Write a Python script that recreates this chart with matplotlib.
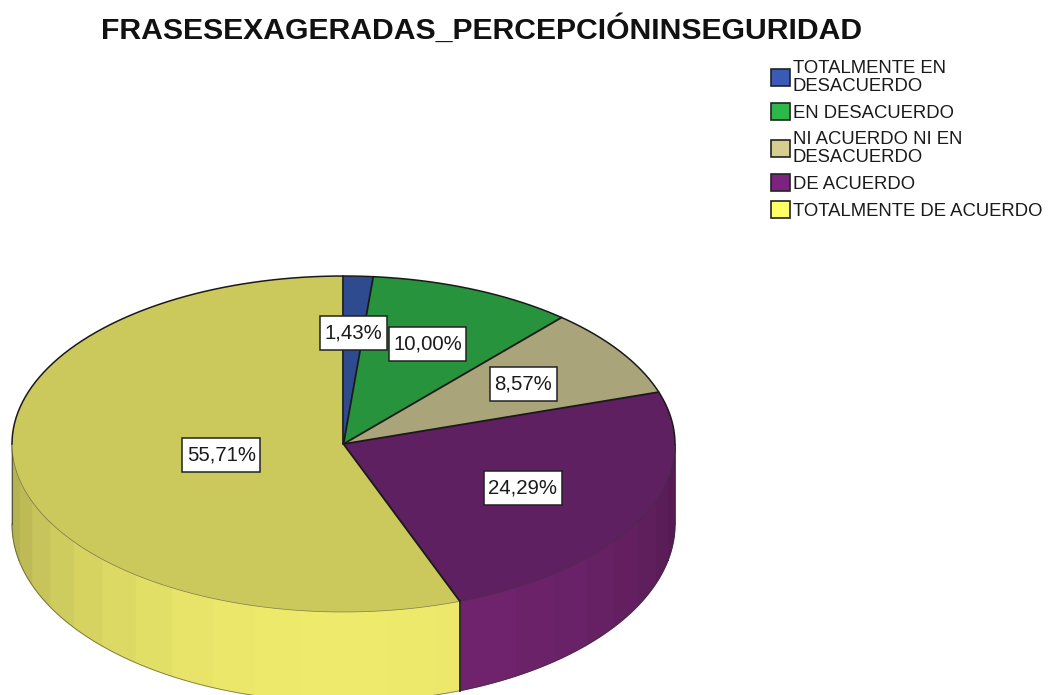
import numpy as np
import matplotlib
matplotlib.use("Agg")
import matplotlib.pyplot as plt
from matplotlib.patches import Patch
from matplotlib.path import Path

title = "FRASESEXAGERADAS_PERCEPCIÓNINSEGURIDAD"
categories = ["TOTALMENTE EN\nDESACUERDO", "EN DESACUERDO",
              "NI ACUERDO NI EN\nDESACUERDO", "DE ACUERDO", "TOTALMENTE DE ACUERDO"]
values = [1.43, 10.00, 8.57, 24.29, 55.71]
value_labels = ["1,43%", "10,00%", "8,57%", "24,29%", "55,71%"]
top_colors = ["#2F4B8F", "#27933D", "#A9A47A", "#5E2060", "#CBC95C"]
side_colors = ["#35549F", "#2CA545", "#BDB88A", "#72246F", "#EEEB6C"]
legend_colors = ["#3A5BB5", "#2DB84A", "#D5CE8F", "#7C2380", "#FFFF66"]
label_radii = [0.66, 0.645, 0.65, 0.60, 0.375]

W, H = 1048, 695
cx, cy, rx, ry = 343.5, 444, 331.5, 168
wall_side, wall_extra = 80 / ry, 10 / ry

plt.rcParams["font.family"] = ["Liberation Sans", "DejaVu Sans"]
fig = plt.figure(figsize=(W / 100, H / 100), dpi=100, facecolor="white")
ax = fig.add_axes([0, 0, 1, 1])

vals = np.array(values)
edges = np.concatenate([[0], np.cumsum(vals) / vals.sum() * 360])  # clockwise from the top


def pos(deg):
    r = np.radians(deg)
    return np.sin(r), np.cos(r)


def wall_depth(y):
    return wall_side + wall_extra * np.abs(y)


def label_box(x0, y0, width, height, mutation_size):
    """White label box with its own horizontal and vertical padding, in pixels."""
    px, tall = 4.5, 34.0
    yc = y0 + height / 2
    l, r, b, t = x0 - px, x0 + width + px, yc - tall / 2, yc + tall / 2
    return Path([(l, b), (r, b), (r, t), (l, t), (l, b)],
                [Path.MOVETO, Path.LINETO, Path.LINETO, Path.LINETO, Path.CLOSEPOLY])


# Side wall, drawn as shaded strips over the front half of the ellipse
STEP = 7.8
for i, col in enumerate(side_colors):
    a0, a1 = max(edges[i], 90), min(edges[i + 1], 270)
    if a1 <= a0:
        continue
    k0 = np.floor((a0 - 180) / STEP)
    k1 = np.ceil((a1 - 180) / STEP)
    marks = np.clip(np.arange(k0, k1 + 1) * STEP + 180, a0, a1)
    base = np.array(matplotlib.colors.to_rgb(col))
    for s0, s1 in zip(marks[:-1], marks[1:]):
        if s1 <= s0:
            continue
        t = np.linspace(s0, s1, 12)
        x, y = pos(t)
        off = np.radians((s0 + s1) / 2 - 180)
        c = base * (0.72 + 0.28 * np.cos(off))
        lower = y - wall_depth(y)
        ax.fill(np.r_[x, x[::-1]], np.r_[y, lower[::-1]],
                facecolor=c, edgecolor=c, linewidth=0.9, zorder=1)

# Silhouette of the wall
t = np.linspace(90, 270, 300)
x, y = pos(t)
ax.plot(x, y - wall_depth(y), color="#333333", lw=0.6, alpha=0.6, zorder=2)
for ang in (90, 270):
    xe, ye = pos(ang)
    ax.plot([xe, xe], [ye, ye - wall_depth(ye)], color="#333333", lw=0.7, alpha=0.7, zorder=2)

# Top face
ax.pie(vals, colors=top_colors, startangle=90, counterclock=False, radius=1,
       wedgeprops={"linewidth": 0, "zorder": 3})
ax.set_aspect("auto")
ax.set_xlim((0 - cx) / rx, (W - cx) / rx)
ax.set_ylim((cy - H) / ry, cy / ry)
ax.axis("off")

# Outlines of the top face and slice divisions
t = np.linspace(-90, 90, 200)
x, y = pos(t)
ax.plot(x, y, color="#1a1a1a", lw=1.1, zorder=4)
t = np.linspace(90, 270, 200)
x, y = pos(t)
ax.plot(x, y, color="#333333", lw=0.5, alpha=0.55, zorder=4)
for e in edges[:-1]:
    xe, ye = pos(e)
    ax.plot([0, xe], [0, ye], color="#1a1a1a", lw=1.3, zorder=4, solid_capstyle="round")
    if 90 < e < 270:
        ax.plot([xe, xe], [ye, ye - wall_depth(ye)], color="#222222", lw=1.3, zorder=4)

# Value labels
for i, txt in enumerate(value_labels):
    xm, ym = pos((edges[i] + edges[i + 1]) / 2)
    ax.text(xm * label_radii[i], ym * label_radii[i], txt, ha="center", va="center",
            fontsize=14.7, color="#1a1a1a", zorder=6,
            bbox={"boxstyle": label_box, "facecolor": "white",
                  "edgecolor": "#222222", "linewidth": 1.1})

fig.text(482 / W, 1 - 30 / H, title, ha="center", va="center",
         fontsize=21.7, fontweight="bold", color="#111111")

handles = [Patch(facecolor=c, edgecolor="#222222", linewidth=1.2) for c in legend_colors]
leg = fig.legend(handles, categories, loc="upper left",
                 bbox_to_anchor=(771 / W, 1 - 60 / H), frameon=False,
                 borderpad=0, borderaxespad=0, fontsize=13.3,
                 handlelength=1.03, handleheight=1.03, handletextpad=0.15,
                 labelspacing=0.46)
for tx in leg.get_texts():
    tx.set_linespacing(1.07)
    tx.set_color("#1a1a1a")

fig.savefig("out.png", dpi=100, facecolor="white")
